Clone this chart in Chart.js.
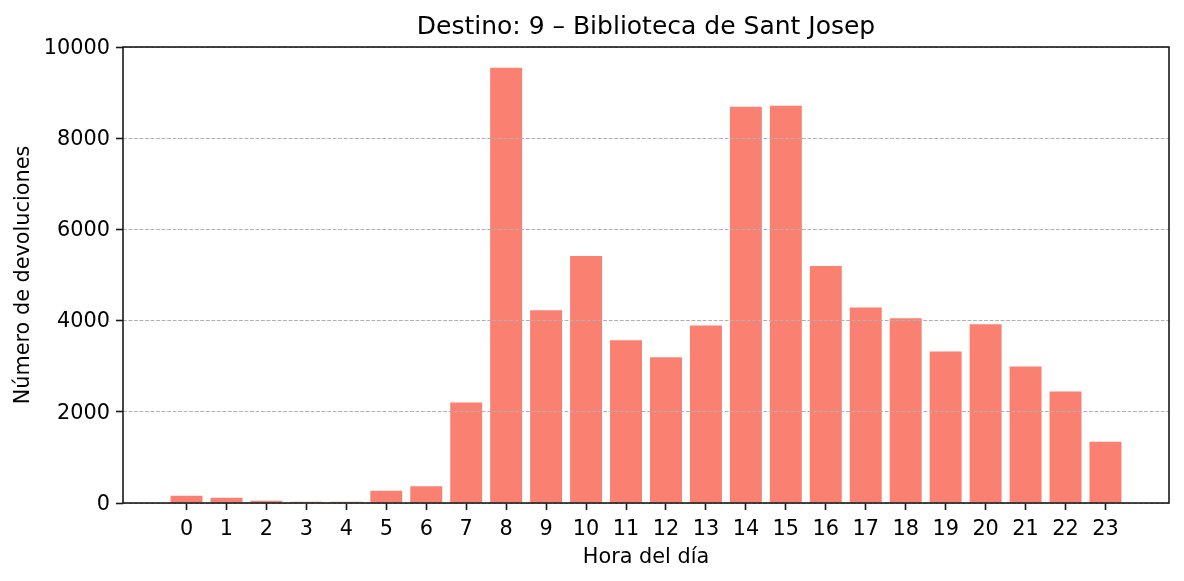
<!DOCTYPE html>
<html>
<head>
<meta charset="utf-8">
<script src="https://cdn.jsdelivr.net/npm/chart.js@4"></script>
<style>
  html, body { margin: 0; padding: 0; background: #fff; }
  #wrap { width: 1184px; height: 581px; }
</style>
</head>
<body>
<div id="wrap"><canvas id="c" width="1184" height="581"></canvas></div>
<script>
const chartTitle = "Destino: 9 – Biblioteca de Sant Josep";
const xTitle = "Hora del día";
const yTitle = "Número de devoluciones";
const hours = [0,1,2,3,4,5,6,7,8,9,10,11,12,13,14,15,16,17,18,19,20,21,22,23];
const devoluciones = [160,115,50,30,30,270,365,2205,9545,4225,5415,3570,3195,3895,8690,8710,5195,4290,4050,3325,3920,2995,2445,1345];
const yTicks = [0,2000,4000,6000,8000,10000];

const FONT = "'DejaVu Sans', 'Liberation Sans', sans-serif";

const titlePlugin = {
  id: 'mplTitle',
  afterDraw(chart) {
    const {ctx, chartArea} = chart;
    ctx.save();
    ctx.font = "25px " + FONT;
    ctx.fillStyle = '#000';
    ctx.textAlign = 'center';
    ctx.textBaseline = 'alphabetic';
    ctx.fillText(chartTitle, (chartArea.left + chartArea.right) / 2, chartArea.top - 13);
    ctx.restore();
  }
};

const framePlugin = {
  id: 'frame',
  afterDraw(chart) {
    const {ctx, chartArea: a} = chart;
    ctx.save();
    ctx.strokeStyle = '#1a1a1a';
    ctx.lineWidth = 1.6;
    ctx.strokeRect(a.left, a.top, a.right - a.left, a.bottom - a.top);
    ctx.restore();
  }
};

new Chart(document.getElementById('c'), {
  type: 'bar',
  data: {
    datasets: [{
      data: hours.map((h, i) => ({x: h, y: devoluciones[i]})),
      backgroundColor: '#FA8072',
      borderWidth: 0,
      barPercentage: 0.8,
      categoryPercentage: 1.0
    }]
  },
  options: {
    responsive: false,
    animation: false,
    devicePixelRatio: 1,
    layout: { padding: { left: 0, right: 15, top: 47, bottom: 0 } },
    plugins: {
      legend: { display: false },
      title: { display: false },
      tooltip: { enabled: false }
    },
    scales: {
      x: {
        type: 'linear',
        offset: false,
        min: -1.59,
        max: 24.59,
        afterBuildTicks(scale) { scale.ticks = hours.map(h => ({value: h})); },
        afterFit(scale) { scale.height = 78; },
        grid: {
          offset: false,
          drawOnChartArea: false,
          drawTicks: true,
          tickLength: 7,
          tickColor: '#1a1a1a',
          tickWidth: 1.6
        },
        border: { display: false },
        ticks: {
          autoSkip: false,
          maxRotation: 0,
          padding: 7,
          color: '#000',
          font: { family: FONT, size: 20.8 },
          callback: v => String(v)
        },
        title: {
          display: true,
          text: xTitle,
          color: '#000',
          font: { family: FONT, size: 20.8 },
          padding: { top: 0, bottom: 11 }
        }
      },
      y: {
        min: 0,
        max: 10000,
        afterBuildTicks(scale) { scale.ticks = yTicks.map(v => ({value: v})); },
        afterFit(scale) { scale.width = 123; },
        grid: {
          z: 1,
          color: '#b0b0b0',
          lineWidth: 1,
          drawTicks: true,
          tickLength: 7,
          tickColor: '#1a1a1a',
          tickWidth: 1.6,
          tickBorderDash: []
        },
        border: { display: false, dash: [3.85, 1.67] },
        ticks: {
          padding: 6,
          labelOffset: 1.5,
          color: '#000',
          font: { family: FONT, size: 20.8 },
          callback: v => String(v)
        },
        title: {
          display: true,
          text: yTitle,
          color: '#000',
          font: { family: FONT, size: 20.8 },
          padding: { top: 11, bottom: 0 }
        }
      }
    }
  },
  plugins: [titlePlugin, framePlugin]
});
</script>
</body>
</html>
